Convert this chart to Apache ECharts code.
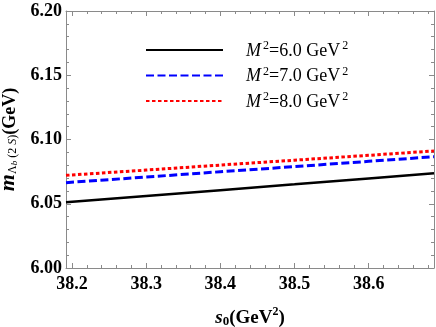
<!DOCTYPE html>
<html>
<head>
<meta charset="utf-8">
<script src="https://cdn.jsdelivr.net/npm/echarts@6/dist/echarts.min.js"></script>
<style>html,body{margin:0;padding:0;background:#fff;}#c{width:436px;height:327px;}</style>
</head>
<body>
<div id="c"></div>
<script>
// ---- data ----
var s0Values = [38.192, 38.3, 38.4, 38.5, 38.6, 38.688];
var massM6 = [6.0511, 6.0560, 6.0606, 6.0651, 6.0697, 6.0737];
var massM7 = [6.0664, 6.0708, 6.0749, 6.0789, 6.0830, 6.0866];
var massM8 = [6.0721, 6.0762, 6.0801, 6.0839, 6.0877, 6.0911];
var borelLabels = ['6.0', '7.0', '8.0'];
var xMajorTicks = [38.2, 38.3, 38.4, 38.5, 38.6];
var xMinorTicks = [38.2,38.22,38.24,38.26,38.28,38.3,38.32,38.34,38.36,38.38,38.4,38.42,38.44,38.46,38.48,38.5,38.52,38.54,38.56,38.58,38.6,38.62,38.64,38.66,38.68];
var xMin = 38.192, xMax = 38.688;
var yMin = 6.00, yMax = 6.20, yStep = 0.05;

function pairs(xs, ys) { return xs.map(function (x, i) { return [x, ys[i]]; }); }

var FONT = 'Liberation Serif';
var AXC = '#8a8a8a';
var names = borelLabels.map(function (b) { return 'M2=' + b; });

var chart = echarts.init(document.getElementById('c'), null, {renderer: 'canvas'});

function xAxisDef(pos, major, showLabel) {
  return {
    type: 'value', position: pos, min: xMin, max: xMax,
    axisLine: {show: major, lineStyle: {color: AXC, width: 1}},
    axisTick: {show: true, inside: true, length: major ? 5 : 3, customValues: major ? xMajorTicks : xMinorTicks, lineStyle: {color: AXC}},
    axisLabel: {show: showLabel, customValues: xMajorTicks, fontFamily: FONT, fontWeight: 'bold', fontSize: 18, color: '#000', margin: 7,
      formatter: function (v) { return v.toFixed(1); }},
    splitLine: {show: false}
  };
}
function yAxisDef(pos, showLabel) {
  return {
    type: 'value', position: pos, min: yMin, max: yMax, interval: yStep,
    axisLine: {show: true, lineStyle: {color: AXC, width: 1}},
    axisTick: {show: true, inside: true, length: 5, lineStyle: {color: AXC}},
    minorTick: {show: true, splitNumber: 5, length: 3, lineStyle: {color: AXC}},
    axisLabel: {show: showLabel, fontFamily: FONT, fontWeight: 'bold', fontSize: 18, color: '#000', margin: 4,
      formatter: function (v) { return v.toFixed(2); }},
    splitLine: {show: false}
  };
}

var xa0 = xAxisDef('bottom', true, true);
xa0.name = '{s|s}{sub|0}{t|(GeV}{sup|2}{t|)}';
xa0.nameLocation = 'middle';
xa0.nameGap = 38;
xa0.nameTextStyle = {rich: {
  s: {fontFamily: FONT, fontWeight: 'bold', fontStyle: 'italic', fontSize: 19, color: '#000', lineHeight: 22, verticalAlign: 'bottom'},
  sub: {fontFamily: FONT, fontWeight: 'bold', fontSize: 13, color: '#000', lineHeight: 14, verticalAlign: 'bottom'},
  t: {fontFamily: FONT, fontWeight: 'bold', fontSize: 19, color: '#000', lineHeight: 22, verticalAlign: 'bottom'},
  sup: {fontFamily: FONT, fontWeight: 'bold', fontSize: 12, color: '#000', lineHeight: 11, verticalAlign: 'top'}
}};

var ya0 = yAxisDef('left', true);
ya0.name = '{m|m}{sub|Λ}{ssub|b}{sub| (2 }{subi|S}{sub|)}{g|(GeV)}';
ya0.nameLocation = 'middle';
ya0.nameRotate = 90;
ya0.nameGap = 47;
ya0.nameTextStyle = {rich: {
  m: {fontFamily: FONT, fontWeight: 'bold', fontStyle: 'italic', fontSize: 22, color: '#000', lineHeight: 24, verticalAlign: 'bottom'},
  sub: {fontFamily: FONT, fontSize: 12, color: '#000', lineHeight: 15, verticalAlign: 'bottom'},
  subi: {fontFamily: FONT, fontStyle: 'italic', fontSize: 12, color: '#000', lineHeight: 15, verticalAlign: 'bottom'},
  ssub: {fontFamily: FONT, fontStyle: 'italic', fontSize: 9, color: '#000', lineHeight: 9, verticalAlign: 'bottom'},
  g: {fontFamily: FONT, fontWeight: 'bold', fontSize: 18, color: '#000', lineHeight: 24, verticalAlign: 'bottom'}
}};

var option = {
  animation: false,
  backgroundColor: '#fff',
  grid: {left: 66, right: 2, top: 11, bottom: 59, containLabel: false, outerBoundsMode: 'none'},
  xAxis: [xa0, xAxisDef('bottom', false, false), xAxisDef('top', true, false), xAxisDef('top', false, false)],
  yAxis: [ya0, yAxisDef('right', false)],
  legend: {
    orient: 'vertical', left: 140, top: 35, padding: 5, itemWidth: 77, itemHeight: 14, itemGap: 5.5,
    data: names,
    itemStyle: {opacity: 0},
    formatter: function (n) {
      var b = n.split('=')[1];
      return '{i|M}{sup|2}{t|=' + b + ' GeV}{sup|2}';
    },
    textStyle: {padding: [0, 0, 0, 18], rich: {
      i: {fontFamily: FONT, fontStyle: 'italic', fontSize: 18, color: '#000', lineHeight: 20, verticalAlign: 'bottom'},
      t: {fontFamily: FONT, fontSize: 18, color: '#000', lineHeight: 20, verticalAlign: 'bottom'},
      sup: {fontFamily: FONT, fontSize: 12, color: '#000', lineHeight: 10, verticalAlign: 'top', padding: [0, 0, 0, 2]}
    }}
  },
  series: [
    {name: names[0], type: 'line', xAxisIndex: 0, yAxisIndex: 0, data: pairs(s0Values, massM6), symbol: 'none', smooth: false,
      lineStyle: {color: '#000000', width: 2.5, type: 'solid'}, itemStyle: {color: '#000000'}},
    {name: names[1], type: 'line', xAxisIndex: 0, yAxisIndex: 0, data: pairs(s0Values, massM7), symbol: 'none', smooth: false,
      lineStyle: {color: '#0000ff', width: 3, type: [8, 3.5]}, itemStyle: {color: '#0000ff'}},
    {name: names[2], type: 'line', xAxisIndex: 0, yAxisIndex: 0, data: pairs(s0Values, massM8), symbol: 'none', smooth: false,
      lineStyle: {color: '#ff0000', width: 3, type: [3.5, 2.5]}, itemStyle: {color: '#ff0000'}}
  ]
};
chart.setOption(option);
</script>
</body>
</html>
